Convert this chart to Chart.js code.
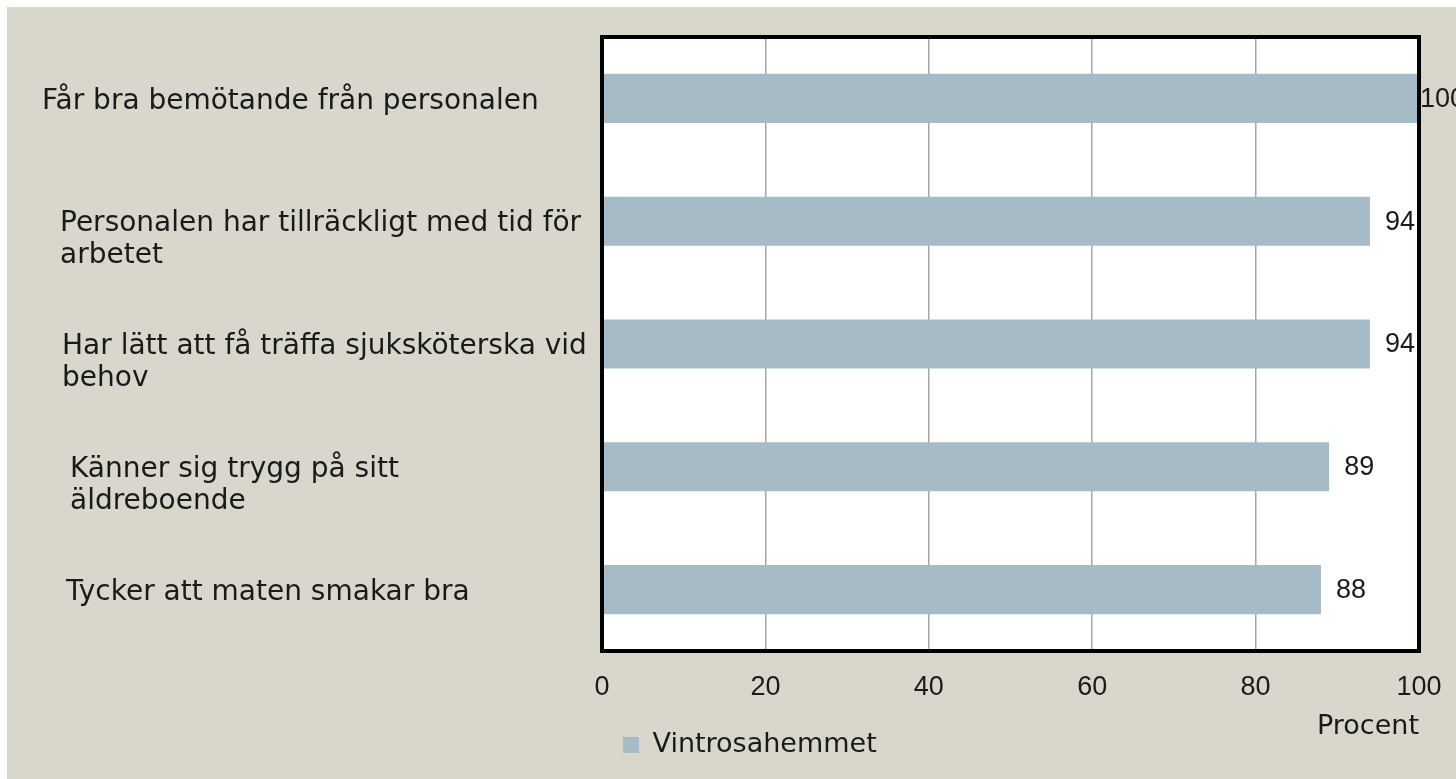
<!DOCTYPE html>
<html>
<head>
<meta charset="utf-8">
<script src="https://cdn.jsdelivr.net/npm/chart.js@4/dist/chart.umd.min.js"></script>
<style>
  html, body { margin: 0; padding: 0; background: #fff; }
  #wrap { position: absolute; left: 7px; top: 7px; width: 1449px; height: 772px; background: #d9d7cb; }
</style>
</head>
<body>
<div id="wrap"><canvas id="chart"></canvas></div>
<script>
// Data
const categories = [
    'Får bra bemötande från personalen',
    ['Personalen har tillräckligt med tid för', 'arbetet'],
    ['Har lätt att få träffa sjuksköterska vid', 'behov'],
    ['Känner sig trygg på sitt', 'äldreboende'],
    'Tycker att maten smakar bra'
];
const values = [100, 94, 94, 89, 88];
const xTicks = [0, 20, 40, 60, 80, 100];
const seriesName = 'Vintrosahemmet';
const axisTitle = 'Procent';

// left edge of each category label, canvas px (labels are not lined up in the original)
const labelLeft = [35, 53, 55, 63, 59];

const textColor = '#1a1a1a';
const barColor = '#a7bbc6';
const wordFont = 'DejaVu Sans';
const numFont = 'Liberation Sans';

// white plot area, thick black frame, value labels
const framePlugin = {
    id: 'frame',
    beforeDraw(chart) {
        const { ctx, chartArea: a } = chart;
        ctx.save();
        ctx.fillStyle = '#fff';
        ctx.fillRect(a.left, a.top, a.right - a.left, a.bottom - a.top);
        ctx.restore();
    },
    afterDatasetsDraw(chart) {
        const { ctx, chartArea: a } = chart;
        ctx.save();
        ctx.lineWidth = 4;
        ctx.strokeStyle = '#000';
        ctx.strokeRect(a.left, a.top, a.right - a.left, a.bottom - a.top);

        // value labels to the right of each bar
        ctx.fillStyle = textColor;
        ctx.font = '27px "' + numFont + '"';
        ctx.textBaseline = 'middle';
        ctx.textAlign = 'left';
        chart.getDatasetMeta(0).data.forEach((bar, i) => {
            const x = Math.min(bar.x + 15, a.right + 1);
            ctx.fillText(values[i], x, bar.y + 1);
        });

        // category labels on the left
        const yScale = chart.scales.y;
        ctx.font = '28px "' + wordFont + '"';
        categories.forEach((label, i) => {
            const lines = Array.isArray(label) ? label : [label];
            const yc = yScale.getPixelForValue(i) + 3;
            lines.forEach((line, j) => {
                ctx.fillText(line, labelLeft[i], yc + j * 32);
            });
        });
        ctx.restore();
    }
};

new Chart(document.getElementById('chart'), {
    type: 'bar',
    data: {
        labels: categories,
        datasets: [{
            label: seriesName,
            data: values,
            backgroundColor: barColor,
            borderWidth: 0,
            barPercentage: 0.4,
            categoryPercentage: 1
        }]
    },
    options: {
        indexAxis: 'y',
        responsive: true,
        maintainAspectRatio: false,
        animation: false,
        layout: {
            padding: { left: 595, right: 37, top: 30, bottom: 10.5 }
        },
        plugins: {
            legend: {
                position: 'bottom',
                align: 'start',
                fullSize: false,
                labels: {
                    boxWidth: 16,
                    boxHeight: 16,
                    padding: 21,
                    color: textColor,
                    font: { family: wordFont, size: 27 }
                }
            },
            tooltip: { enabled: false }
        },
        scales: {
            x: {
                min: 0,
                max: 100,
                afterBuildTicks: s => { s.ticks = xTicks.map(v => ({ value: v })); },
                afterFit: s => {
                    s.height = 59.5;
                    s.paddingLeft = 0;
                    s.paddingRight = 0;
                },
                grid: {
                    color: '#a6a6a6',
                    lineWidth: 1.5,
                    drawTicks: false
                },
                border: { display: false },
                ticks: {
                    padding: 20,
                    color: textColor,
                    font: { family: numFont, size: 27 }
                },
                title: {
                    display: true,
                    text: axisTitle,
                    align: 'end',
                    color: textColor,
                    padding: { top: 0, bottom: -32.7 },
                    font: { family: wordFont, size: 27 }
                }
            },
            y: {
                display: false
            }
        }
    },
    plugins: [framePlugin]
});
</script>
</body>
</html>
